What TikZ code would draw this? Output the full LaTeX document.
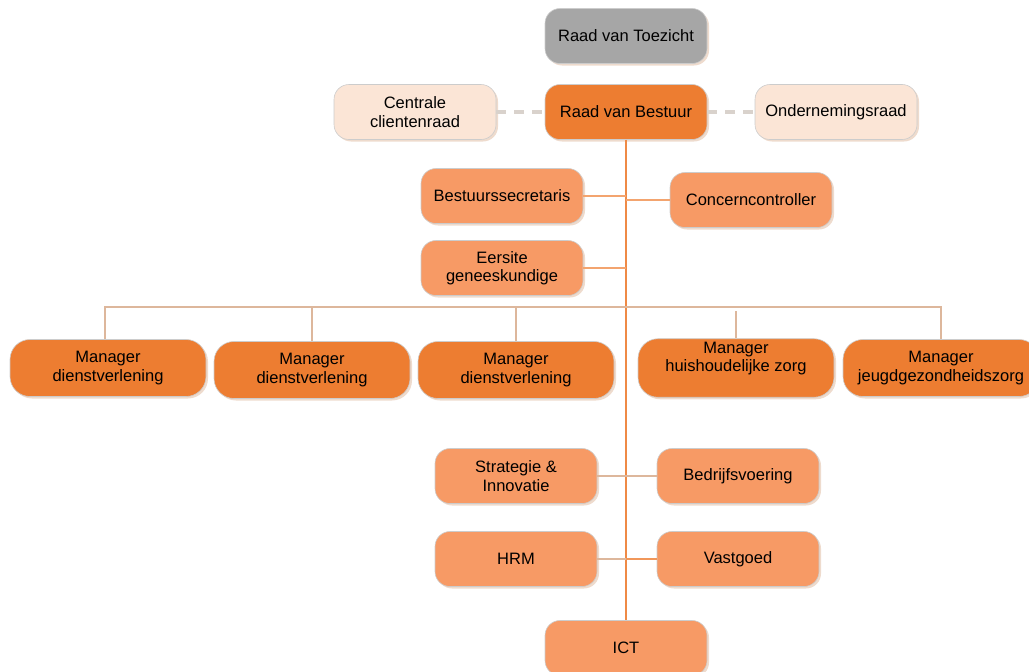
\documentclass[tikz,border=0pt]{standalone}
\usepackage{fontspec}
\setmainfont{Liberation Sans}
\usepackage{tikz}
\usetikzlibrary{positioning,shadows}
\definecolor{topcolor}{RGB}{166,166,166}
\definecolor{boardcolor}{RGB}{237,125,49}
\definecolor{staffcolor}{RGB}{247,154,101}
\definecolor{palecolor}{RGB}{251,229,214}
\definecolor{buscolor}{RGB}{221,183,156}
\definecolor{dashcolor}{RGB}{217,210,204}

\begin{document}
\begin{tikzpicture}[x=1pt,y=-1pt,line width=2.8pt,
                    font=\fontsize{16.5}{18.5}\selectfont]
  \tikzstyle{every node}=[align=center,text=black]
  \tikzstyle{box}=[rounded corners=15pt,minimum width=162pt,minimum height=55pt,
                   draw=white!80!black,line width=0.6pt,
                   drop shadow={shadow xshift=2pt,shadow yshift=-2pt,fill=buscolor,opacity=.5}]
  \tikzstyle{manager}=[box,fill=boardcolor,minimum width=196pt,minimum height=57pt,rounded corners=20pt]
  \tikzstyle{staff}=[box,fill=staffcolor]
  \tikzstyle{pale}=[box,fill=palecolor]

  \clip (0,0) rectangle (1029,672);
  \useasboundingbox (0,0) rectangle (1029,672);

  \node[box, fill=topcolor]   (T) at (626,36)  {Raad van Toezicht};
  \node[box, fill=boardcolor] (B) at (626,112) {Raad van Bestuur};
  \node[pale]                 (C) at (415,112) {Centrale\\clientenraad};
  \node[pale]                 (O) at (836,112) {Ondernemingsraad};

  \node[staff] (S) at (502,196) {Bestuurssecretaris};
  \node[staff] (K) at (751,200) {Concerncontroller};
  \node[staff] (E) at (502,268) {Eersite\\geneeskundige};

  \node[manager] (M1) at (108,368) {Manager\\dienstverlening};
  \node[manager] (M2) at (312,370) {Manager\\dienstverlening};
  \node[manager] (M3) at (516,370) {Manager\\dienstverlening};
  \node[manager, text depth=22pt] (M4) at (736,368) {Manager\\huishoudelijke zorg};
  \node[manager] (M5) at (941,368) {Manager\\jeugdgezondheidszorg};

  \node[staff] (I) at (516,476) {Strategie \&\\Innovatie};
  \node[staff] (V) at (738,476) {Bedrijfsvoering};
  \node[staff] (H) at (516,559) {HRM};
  \node[staff] (G) at (738,559) {Vastgoed};
  \node[staff] (X) at (626,648) {ICT};

  \coordinate (bus) at (626,307);

  \draw[dashcolor,line width=4.5pt,dash pattern=on 10pt off 8pt] (C.east) -- (B.west)
        (B.east) -- (O.west);

  \draw[boardcolor!90!white] (B.south) -- (X.north);
  \draw[boardcolor!70!white] (S.east) -- (S.east -| B)
        (K.west) -- (K.west -| B)
        (E.east) -- (E.east -| B);

  \draw[buscolor] (M1.north -| 105,0) |- (M5.north |- bus) -- (M5.north);
  \draw[buscolor] (M2.north) -- (M2.north |- bus)
        (M3.north) -- (M3.north |- bus)
        (M4.north) -- ++(0,-27);

  \draw[buscolor] (I.east) -- (V.west)
        (H.east) -- (H.east -| B);
  \draw[boardcolor!80!white] (H.east -| B) -- (G.west);
\end{tikzpicture}
\end{document}
